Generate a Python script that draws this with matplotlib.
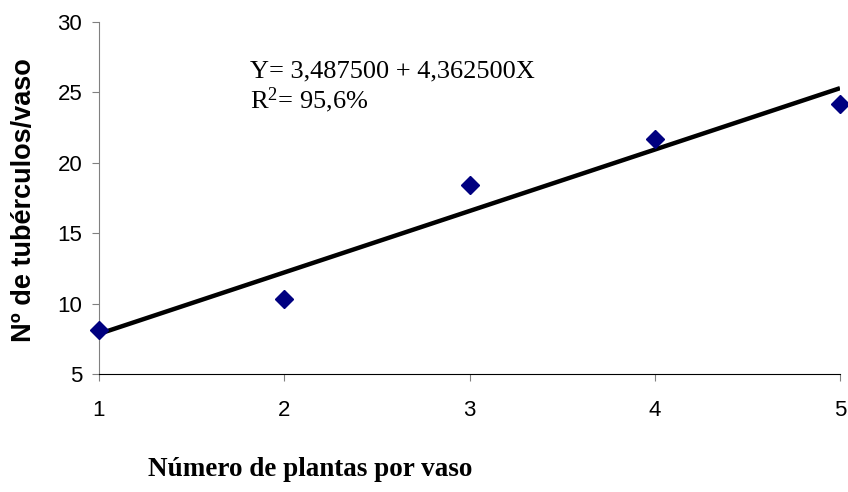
import numpy as np
import matplotlib
matplotlib.use("Agg")
import matplotlib.pyplot as plt

# ---------------- DATA ----------------
plantas = [1, 2, 3, 4, 5]
tuberculos = [8.1, 10.3, 18.4, 21.7, 24.2]
intercepto = 3.4875
inclinacao = 4.3625
eq_line1 = "Y= 3,487500 + 4,362500X"
eq_line2 = "$\\mathregular{R^2}$= 95,6%"

W, H = 848, 492

# ---------------- PLOT ----------------
fig = plt.figure(figsize=(W / 100, H / 100), dpi=100)
ax = fig.add_axes([99 / W, 1 - 374 / H, (840 - 99) / W, (374 - 22) / H])

x = np.array(plantas, dtype=float)
ax.plot(x, intercepto + inclinacao * x, color="black", lw=3.2,
        solid_capstyle="butt", zorder=2)
ax.plot(plantas, tuberculos, linestyle="none", marker="D", markersize=9,
        color="#000080", zorder=3, clip_on=False)

ax.set_xlim(1, 5)
ax.set_ylim(5, 30)
ax.set_xticks(plantas)
ax.set_yticks([5, 10, 15, 20, 25, 30])

for s in ["top", "right"]:
    ax.spines[s].set_visible(False)
ax.spines["left"].set_color("#808080")
ax.spines["bottom"].set_color("black")

ax.tick_params(axis="both", direction="out", length=5, color="#808080",
               labelsize=16)
ax.tick_params(axis="y", pad=7)
ax.tick_params(axis="x", pad=14)
for lab in ax.get_xticklabels() + ax.get_yticklabels():
    lab.set_fontfamily("Liberation Sans")

# equation text (pixel positions from top-left)
fig.text(250 / W, 1 - 77 / H, eq_line1, fontfamily="Liberation Serif",
         fontsize=19, va="baseline")
fig.text(250 / W, 1 - 108 / H, eq_line2, fontfamily="Liberation Serif",
         fontsize=19, va="baseline")

fig.text(24 / W, 1 - 200 / H, "Nº de tubérculos/vaso", rotation=90,
         fontfamily="Liberation Sans", fontweight="bold", fontsize=19.5,
         ha="center", va="center")
fig.text(310 / W, 1 - 470 / H, "Número de plantas por vaso",
         fontfamily="Liberation Serif", fontweight="bold", fontsize=19.5,
         ha="center", va="center")

fig.savefig("out.png", dpi=100)
